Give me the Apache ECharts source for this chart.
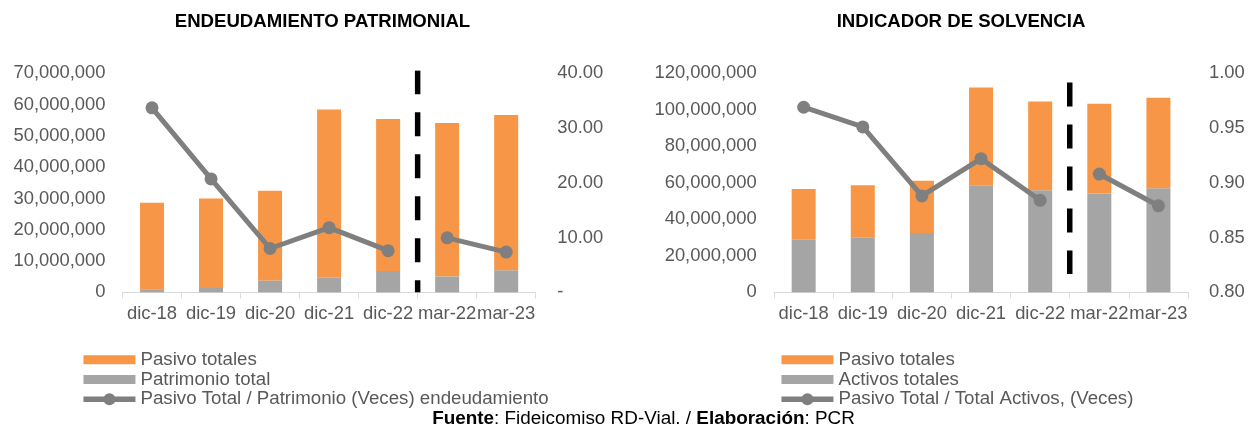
<!DOCTYPE html>
<html>
<head>
<meta charset="utf-8">
<script src="https://cdn.jsdelivr.net/npm/echarts@6/dist/echarts.min.js"></script>
<style>
html,body{margin:0;padding:0;background:#fff;}
#chart{width:1256px;height:431px;}
</style>
</head>
<body>
<div id="chart"></div>
<script>
// ---- data ----
const categories = ['dic-18', 'dic-19', 'dic-20', 'dic-21', 'dic-22', 'mar-22', 'mar-23'];
const pasivoTotales = [27.8e6, 28.6e6, 28.65e6, 53.6e6, 48.6e6, 49.05e6, 49.6e6];
const patrimonioTotal = [0.85e6, 1.4e6, 3.8e6, 4.8e6, 6.8e6, 5.1e6, 7.05e6];
const endeudamiento = [33.7, 20.7, 8.0, 11.8, 7.6, 9.95, 7.35];
const activosTotales = [28.8e6, 30.1e6, 32.5e6, 58.6e6, 55.9e6, 54.2e6, 57.0e6];
const solvencia = [0.969, 0.951, 0.888, 0.922, 0.884, 0.908, 0.879];
const leftTicks = [0, 10e6, 20e6, 30e6, 40e6, 50e6, 60e6, 70e6];
const leftRatioTicks = [0, 10, 20, 30, 40];
const rightTicks = [0, 20e6, 40e6, 60e6, 80e6, 100e6, 120e6];
const rightRatioTicks = [0.80, 0.85, 0.90, 0.95, 1.00];
const separatorCategory = 'mar-22';
const leftSeparatorRange = [71e6, 0];
const rightSeparatorRange = [115e6, 10e6];

const names = {
  pasivo: 'Pasivo totales',
  patr: 'Patrimonio total',
  endeud: 'Pasivo Total / Patrimonio (Veces) endeudamiento',
  activos: 'Activos totales',
  solv: 'Pasivo Total / Total Activos, (Veces)'
};

const FONT = '"Liberation Sans", Arial, sans-serif';
const FS = 18.4;
const ORANGE = '#F79646', GRAY = '#A5A5A5', LINE = '#7F7F7F', TXT = '#595959';
const sepIdx = categories.indexOf(separatorCategory) - 0.5;
const splitIdx = categories.indexOf(separatorCategory);
const firstPart = arr => arr.map((v, i) => i < splitIdx ? v : '-');
const secondPart = arr => arr.map((v, i) => i >= splitIdx ? v : '-');
const fmtNum = v => Math.round(v).toLocaleString('en-US');
const BAR_ICON = 'path://M0,0L52,0L52,9L0,9Z';

function catAxis(gridIndex) {
  return {
    type: 'category', gridIndex, data: categories,
    axisLine: {lineStyle: {color: '#D9D9D9', width: 1}},
    axisTick: {show: true, length: 6, interval: 0, lineStyle: {color: '#D9D9D9'}},
    axisLabel: {interval: 0, color: TXT, fontSize: FS, fontFamily: FONT, margin: 13}
  };
}
function hiddenValX(gridIndex) {
  return {type: 'value', gridIndex, min: -0.5, max: categories.length - 0.5, show: false};
}
function valAxis(gridIndex, ticks, fmt, pos, margin) {
  return {
    type: 'value', gridIndex, position: pos,
    min: ticks[0], max: ticks[ticks.length - 1], interval: ticks[1] - ticks[0],
    splitLine: {show: false}, axisLine: {show: false}, axisTick: {show: false},
    axisLabel: {color: TXT, fontSize: FS, fontFamily: FONT, margin: margin, formatter: fmt,
      align: pos === 'right' ? 'left' : 'right'}
  };
}
const lineStyleCommon = {
  type: 'line', symbol: 'circle', symbolSize: 13, z: 5,
  lineStyle: {color: LINE, width: 5}, itemStyle: {color: LINE}
};
function legendCfg(left, items) {
  return {
    orient: 'vertical', left: left, top: 350, padding: 0,
    itemWidth: 52, itemHeight: 15, itemGap: 0, itemTextGap: 5, symbolKeepAspect: true,
    lineStyle: {width: 5.5},
    textStyle: {color: TXT, fontSize: 18.7, fontFamily: FONT, lineHeight: 19.7},
    selectedMode: false,
    data: items
  };
}

const option = {
  animation: false,
  backgroundColor: '#fff',
  grid: [
    {left: 122.5, right: 1256 - 535.7, top: 73.3, bottom: 431 - 292.3},
    {left: 774.1, right: 1256 - 1188, top: 73.3, bottom: 431 - 292.3}
  ],
  xAxis: [catAxis(0), catAxis(1), hiddenValX(0), hiddenValX(1)],
  yAxis: [
    valAxis(0, leftTicks, fmtNum, 'left', 17),
    valAxis(0, leftRatioTicks, v => v === 0 ? '-' : v.toFixed(2), 'right', 21.5),
    valAxis(1, rightTicks, fmtNum, 'left', 17.4),
    valAxis(1, rightRatioTicks, v => v.toFixed(2), 'right', 21)
  ],
  legend: [
    legendCfg(80.7, [
      {name: names.pasivo, icon: BAR_ICON},
      {name: names.patr, icon: BAR_ICON},
      {name: names.endeud}
    ]),
    legendCfg(778.7, [
      {name: names.pasivo, icon: BAR_ICON},
      {name: names.activos, icon: BAR_ICON},
      {name: names.solv}
    ])
  ],
  series: [
    // left chart
    {name: names.patr, type: 'bar', stack: 'L', xAxisIndex: 0, yAxisIndex: 0, barWidth: 24,
      itemStyle: {color: GRAY}, data: patrimonioTotal},
    {name: names.pasivo, type: 'bar', stack: 'L', xAxisIndex: 0, yAxisIndex: 0, barWidth: 24,
      itemStyle: {color: ORANGE}, data: pasivoTotales},
    Object.assign({name: names.endeud, xAxisIndex: 0, yAxisIndex: 1, data: firstPart(endeudamiento)}, lineStyleCommon),
    Object.assign({name: names.endeud, xAxisIndex: 0, yAxisIndex: 1, data: secondPart(endeudamiento)}, lineStyleCommon),
    {type: 'line', xAxisIndex: 2, yAxisIndex: 0, symbol: 'none', silent: true, z: 4,
      lineStyle: {color: '#000', width: 5.5, type: [24, 18]},
      data: leftSeparatorRange.map(v => [sepIdx, v])},
    // right chart
    {name: names.activos, type: 'bar', stack: 'R', xAxisIndex: 1, yAxisIndex: 2, barWidth: 24,
      itemStyle: {color: GRAY}, data: activosTotales},
    {name: names.pasivo, type: 'bar', stack: 'R', xAxisIndex: 1, yAxisIndex: 2, barWidth: 24,
      itemStyle: {color: ORANGE}, data: pasivoTotales},
    Object.assign({name: names.solv, xAxisIndex: 1, yAxisIndex: 3, data: firstPart(solvencia)}, lineStyleCommon),
    Object.assign({name: names.solv, xAxisIndex: 1, yAxisIndex: 3, data: secondPart(solvencia)}, lineStyleCommon),
    {type: 'line', xAxisIndex: 3, yAxisIndex: 2, symbol: 'none', silent: true, z: 4,
      lineStyle: {color: '#000', width: 5.5, type: [24, 18]},
      data: rightSeparatorRange.map(v => [sepIdx, v])}
  ],
  graphic: [
    {type: 'text', x: 322.5, y: 21.5, silent: true,
      style: {text: 'ENDEUDAMIENTO PATRIMONIAL', fill: '#000', font: 'bold 18.6px ' + FONT, align: 'center', verticalAlign: 'middle'}},
    {type: 'text', x: 961, y: 21.5, silent: true,
      style: {text: 'INDICADOR DE SOLVENCIA', fill: '#000', font: 'bold 18.6px ' + FONT, align: 'center', verticalAlign: 'middle'}},
    {type: 'text', x: 643.5, y: 418.5, silent: true,
      style: {
        text: '{b|Fuente}: Fideicomiso RD-Vial. / {b|Elaboración}: PCR',
        fill: '#000', fontSize: 18.9, fontFamily: FONT, align: 'center', verticalAlign: 'middle',
        rich: {b: {fontWeight: 'bold', fontSize: 18.9, fontFamily: FONT, fill: '#000'}}
      }}
  ]
};

const chart = echarts.init(document.getElementById('chart'), null, {renderer: 'canvas'});
chart.setOption(option);
</script>
</body>
</html>
